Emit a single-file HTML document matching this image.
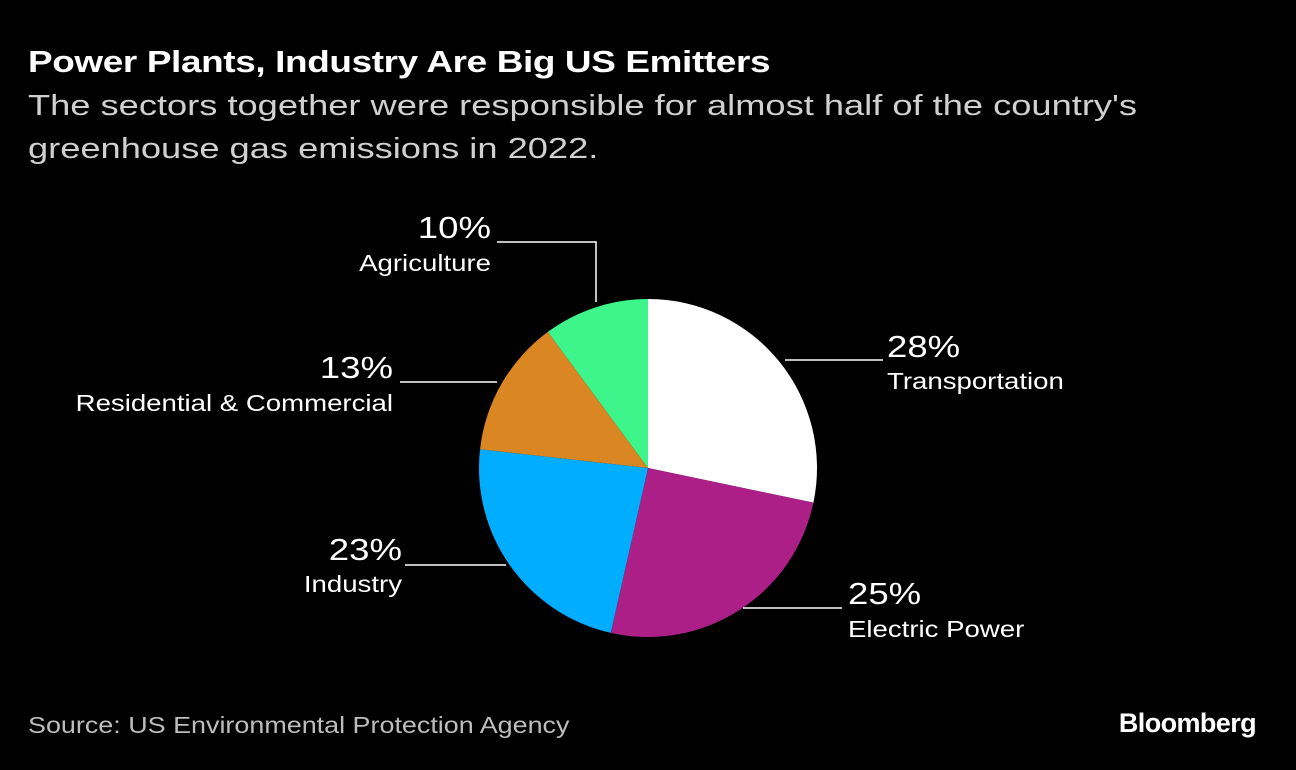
<!DOCTYPE html>
<html><head><meta charset="utf-8"><style>
body{margin:0;background:#000;width:1296px;height:770px;overflow:hidden;font-family:"Liberation Sans",Arial,sans-serif;color:#fff;position:relative}
.t{position:absolute;left:28px;top:44px;font-size:31px;font-weight:bold;letter-spacing:-0.3px;transform:scaleX(1.19);transform-origin:0 0;white-space:nowrap}
.s{position:absolute;left:28px;top:85px;font-size:29px;color:#d0d0d0;line-height:43px;white-space:nowrap;transform:scaleX(1.25);transform-origin:0 0}
.src{position:absolute;left:28px;top:712px;font-size:23px;color:#bdbdbd;transform:scaleX(1.17);transform-origin:0 0;white-space:nowrap}
.bb{position:absolute;right:40px;top:708px;font-size:27px;font-weight:bold;letter-spacing:-0.6px}
</style></head><body>
<div class="t">Power Plants, Industry Are Big US Emitters</div>
<div class="s">The sectors together were responsible for almost half of the country's<br>greenhouse gas emissions in 2022.</div>
<svg id="pie" width="1296" height="770" style="position:absolute;left:0;top:0"></svg>
<div class="src">Source: US Environmental Protection Agency</div>
<div class="bb">Bloomberg</div>
<script>
const categories=["Transportation","Electric Power","Industry","Residential & Commercial","Agriculture"];
const values=[28,25,23,13,10];
const colors=["#ffffff","#ab1f87","#00adff","#d98623","#3ef58c"];
// label layout: [textX, pctY, nameY, anchor, line x1, line x2, line y, vertical end y]
const layout=[[887,357,389,"start",785,883,360,null],[848,604,637,"start",743,842,608,null],[402,560,592,"end",405,506,565,null],[393,378,411,"end",400,497,382,null],[491,238,271,"end",497,596,242,302]];
const svg=document.getElementById('pie');const NS='http://www.w3.org/2000/svg';
const cx=648,cy=468,r=169;
const total=values.reduce((a,b)=>a+b,0);
function pt(a){return [cx+r*Math.sin(a),cy-r*Math.cos(a)];}
let a0=0;
values.forEach((v,i)=>{
 const a1=a0+v/total*2*Math.PI;
 const p0=pt(a0),p1=pt(a1);
 const p=document.createElementNS(NS,'path');
 p.setAttribute('d',`M${cx},${cy}L${p0[0]},${p0[1]}A${r},${r} 0 ${a1-a0>Math.PI?1:0} 1 ${p1[0]},${p1[1]}Z`);
 p.setAttribute('fill',colors[i]);
 
 
 svg.appendChild(p);
 a0=a1;
});
values.forEach((v,i)=>{
 const L=layout[i];
 const ln=document.createElementNS(NS,'polyline');
 let pts=`${L[4]},${L[6]} ${L[5]},${L[6]}`; if(L[7])pts+=` ${L[5]},${L[7]}`;
 ln.setAttribute('points',pts);ln.setAttribute('fill','none');ln.setAttribute('stroke','#fff');ln.setAttribute('stroke-width','1.5');
 
 
 svg.appendChild(ln);
 const t1=document.createElementNS(NS,'text');
 t1.setAttribute('transform',`translate(${L[0]},${L[1]}) scale(1.18,1)`);t1.setAttribute('text-anchor',L[3]);t1.setAttribute('fill','#fff');t1.setAttribute('font-size','31');
 t1.textContent=v+'%';
 
 
 svg.appendChild(t1);
 const t2=document.createElementNS(NS,'text');
 t2.setAttribute('transform',`translate(${L[0]},${L[2]}) scale(1.2,1)`);t2.setAttribute('text-anchor',L[3]);t2.setAttribute('fill','#fff');t2.setAttribute('font-size','23');
 t2.textContent=categories[i];
 
 
 svg.appendChild(t2);
});
</script>
</body></html>
